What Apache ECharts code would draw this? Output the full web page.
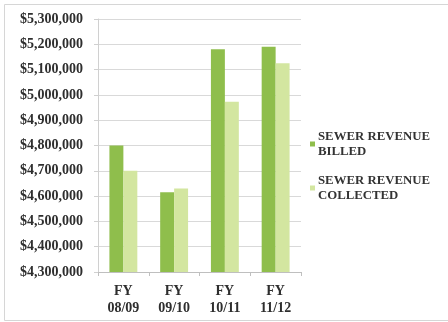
<!DOCTYPE html>
<html>
<head>
<meta charset="utf-8">
<script src="https://cdn.jsdelivr.net/npm/echarts@6/dist/echarts.min.js"></script>
<style>
  html, body { margin: 0; padding: 0; background: #fff; }
  #chart { width: 448px; height: 322px; }
</style>
</head>
<body>
<div id="chart"></div>
<script>
// Fiscal years on the category axis
const categories = ['FY\n08/09', 'FY\n09/10', 'FY\n10/11', 'FY\n11/12'];
// Sewer revenue per fiscal year (USD)
const billed = [4800000, 4615000, 5180000, 5190000];
const collected = [4700000, 4630000, 4973000, 5125000];
// Value axis range and step
const yMin = 4300000;
const yMax = 5300000;
const yStep = 100000;

const serif = '"Liberation Serif", "DejaVu Serif", serif';

function money(v) {
  return '$' + v.toLocaleString('en-US');
}

const chart = echarts.init(document.getElementById('chart'), null, { renderer: 'canvas' });
chart.setOption({
  animation: false,
  backgroundColor: '#ffffff',
  graphic: [{
    type: 'rect',
    shape: { x: 4.5, y: 4.5, width: 450, height: 316 },
    style: { fill: 'none', stroke: '#d6d6d6', lineWidth: 1 },
    silent: true
  }],
  grid: { left: 98, right: 147, top: 19, bottom: 50, containLabel: false },
  legend: {
    orient: 'vertical',
    left: 305,
    top: 124,
    itemWidth: 5,
    itemHeight: 5,
    itemGap: 14,
    icon: 'rect',
    textStyle: {
      fontFamily: serif,
      fontWeight: 'bold',
      fontSize: 12.8,
      color: '#333333',
      lineHeight: 15,
      padding: [0, 0, 0, -2]
    },
    data: ['SEWER REVENUE\nBILLED', 'SEWER REVENUE\nCOLLECTED']
  },
  xAxis: {
    type: 'category',
    data: categories,
    axisLine: { lineStyle: { color: '#bfbfbf' } },
    axisTick: { show: true, length: 4, lineStyle: { color: '#bfbfbf' } },
    axisLabel: {
      margin: 11,
      fontFamily: serif,
      fontWeight: 'bold',
      fontSize: 14,
      color: '#2e2e2e',
      lineHeight: 17
    }
  },
  yAxis: {
    type: 'value',
    min: yMin,
    max: yMax,
    interval: yStep,
    axisLine: { show: true, lineStyle: { color: '#d0d0d0' } },
    axisTick: { show: true, length: 4, lineStyle: { color: '#d0d0d0' } },
    splitLine: { lineStyle: { color: '#d9d9d9' } },
    axisLabel: {
      margin: 15,
      formatter: money,
      fontFamily: serif,
      fontWeight: 'bold',
      fontSize: 14,
      color: '#2e2e2e'
    }
  },
  series: [
    {
      name: 'SEWER REVENUE\nBILLED',
      type: 'bar',
      data: billed,
      barGap: '0%',
      barCategoryGap: '45%',
      itemStyle: { color: '#8fbe4c' }
    },
    {
      name: 'SEWER REVENUE\nCOLLECTED',
      type: 'bar',
      data: collected,
      barGap: '0%',
      barCategoryGap: '45%',
      itemStyle: { color: '#d3e6a0' }
    }
  ]
});
</script>
</body>
</html>
